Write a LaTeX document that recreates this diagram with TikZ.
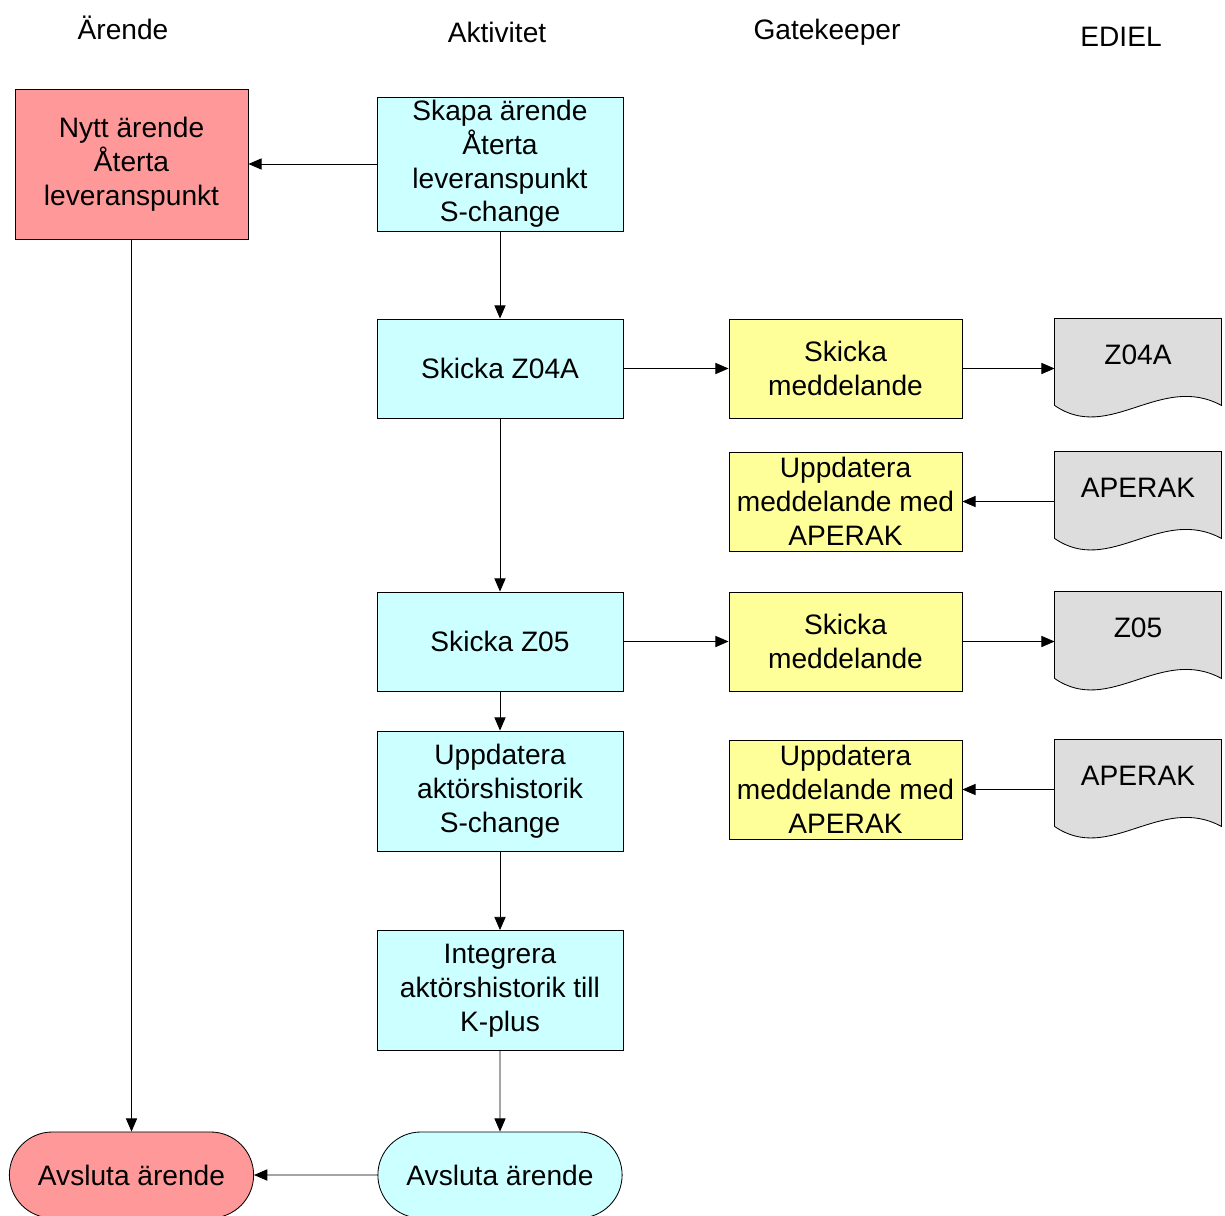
\documentclass[tikz,border=0pt]{standalone}
\usepackage{fontspec}
\setmainfont{Liberation Sans}
\usetikzlibrary{arrows.meta,shapes.misc,backgrounds}
\definecolor{fred}{HTML}{FF9999}
\definecolor{fcyan}{HTML}{CCFFFF}
\definecolor{fyellow}{HTML}{FFFF99}
\definecolor{fgray}{HTML}{DDDDDD}

% wavy document outline behind a doc node
\newcommand{\docoutline}[1]{%
  \begin{scope}[on background layer]
    \draw[line width=0.6pt, fill=fgray] (#1.south west) -- (#1.north west) -- (#1.north east) -- (#1.south east)
      .. controls ([shift={(-1.525cm,0.825cm)}]#1.south east) and ([shift={(1.375cm,-0.95cm)}]#1.south west) .. (#1.south west) -- cycle;
  \end{scope}}

\begin{document}
\begin{tikzpicture}[
    x=0.025cm, y=-0.025cm,
    base/.style={draw, line width=0.6pt, align=center, inner sep=1pt, font=\fontsize{20}{24}\selectfont},
    act/.style={base, fill=fcyan, minimum width=6.15cm},
    case/.style={base, fill=fred, minimum width=5.825cm, minimum height=3.75cm},
    gate/.style={base, fill=fyellow, minimum width=5.825cm, minimum height=2.475cm},
    doc/.style={base, draw=none, minimum width=4.15cm, minimum height=2.15cm, text depth=10pt},
    term/.style={base, rounded rectangle, minimum width=6.175cm, minimum height=2.15cm},
    head/.style={font=\fontsize{20}{24}\selectfont},
    arr/.style={-{Triangle[length=0.33cm,width=0.28cm]}, line width=0.6pt}
]
    \useasboundingbox (0,0) rectangle (1225,1216);

    % Lane headers
    \node[head] (hcase) at (123,28) {Ärende};
    \node[head] (hact) at (497,32) {Aktivitet};
    \node[head] (hgate) at (827,32) {Gatekeeper};
    \node[head] (hediel) at (1121,37) {EDIEL};

    % Ärende
    \node[case] (nytt) at (131.5,164) {Nytt ärende\\Återta\\leveranspunkt};
    \node[term, fill=fred] (endcase) at (131.5,1175) {Avsluta ärende};

    % Aktivitet
    \node[act, minimum height=3.35cm] (skapa) at (500,164) {Skapa ärende\\Återta\\leveranspunkt\\S-change};
    \node[act, minimum height=2.475cm] (z04a) at (500,368.5) {Skicka Z04A};
    \node[act, minimum height=2.475cm] (z05) at (500,641.5) {Skicka Z05};
    \node[act, minimum height=3.0cm] (hist) at (500,791) {Uppdatera\\aktörshistorik\\S-change};
    \node[act, minimum height=3.0cm] (integ) at (500,990.5) {Integrera\\aktörshistorik till\\K-plus};
    \node[term, fill=fcyan] (endact) at (500,1175) {Avsluta ärende};

    % Gatekeeper
    \node[gate] (send1) at (845.5,368.5) {Skicka\\meddelande};
    \node[gate] (upd1) at (845.5,501.5) {Uppdatera\\meddelande med\\APERAK};
    \node[gate] (send2) at (845.5,641.5) {Skicka\\meddelande};
    \node[gate] (upd2) at (845.5,789.5) {Uppdatera\\meddelande med\\APERAK};

    % EDIEL
    \node[doc] (docz04a) at (1138,362) {Z04A};
    \node[doc] (docap1) at (1138,495) {APERAK};
    \node[doc] (docz05) at (1138,635) {Z05};
    \node[doc] (docap2) at (1138,783) {APERAK};
    \docoutline{docz04a}
    \docoutline{docap1}
    \docoutline{docz05}
    \docoutline{docap2}

    % Arrows
    \draw[arr] (skapa) -- (nytt);
    \draw[arr] (nytt) -- (endcase);
    \draw[arr] (skapa) -- (z04a);
    \draw[arr] (z04a) -- (z05);
    \draw[arr] (z05) -- (hist);
    \draw[arr] (hist) -- (integ);
    \draw[arr] (integ) -- (endact);
    \draw[arr] (endact) -- (endcase);
    \draw[arr] (z04a) -- (send1);
    \draw[arr] (send1.east) -- (send1.east -| docz04a.west);
    \draw[arr] (docap1.west |- upd1.east) -- (upd1.east);
    \draw[arr] (z05) -- (send2);
    \draw[arr] (send2.east) -- (send2.east -| docz05.west);
    \draw[arr] (docap2.west |- upd2.east) -- (upd2.east);

\end{tikzpicture}
\end{document}
